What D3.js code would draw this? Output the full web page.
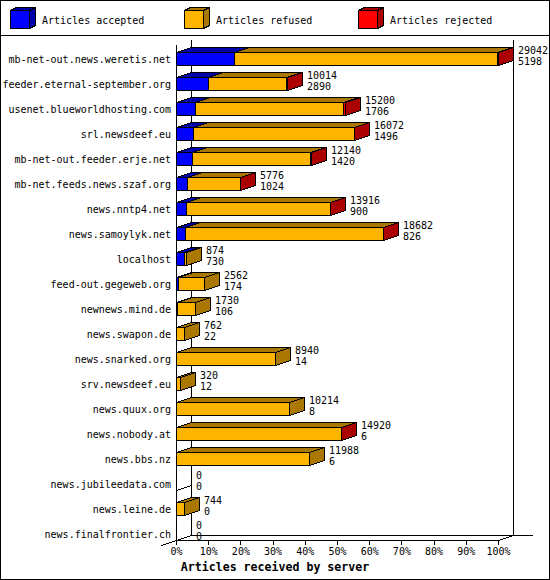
<!DOCTYPE html>
<html><head><meta charset="utf-8">
<script src="https://cdn.jsdelivr.net/npm/d3@7"></script>
<style>
html,body{margin:0;padding:0;background:#fff}
svg{display:block}
text{font-family:"DejaVu Sans Mono",monospace;font-size:10px;fill:#000}
</style>
</head><body>
<svg id="c" width="550" height="580"></svg>
<script>
const servers = ["mb-net-out.news.weretis.net","feeder.eternal-september.org","usenet.blueworldhosting.com","srl.newsdeef.eu","mb-net-out.feeder.erje.net","mb-net.feeds.news.szaf.org","news.nntp4.net","news.samoylyk.net","localhost","feed-out.gegeweb.org","newnews.mind.de","news.swapon.de","news.snarked.org","srv.newsdeef.eu","news.quux.org","news.nobody.at","news.bbs.nz","news.jubileedata.com","news.leine.de","news.finalfrontier.ch"];
const offered  = [29042,10014,15200,16072,12140,5776,13916,18682,874,2562,1730,762,8940,320,10214,14920,11988,0,744,0];
const accepted = [5198,2890,1706,1496,1420,1024,900,826,730,174,106,22,14,12,8,6,6,0,0,0];
const refused  = [23724,7064,13314,14516,10680,4722,12976,17806,144,2388,1624,740,8926,308,10206,14854,11982,0,744,0];
const rejected = [120,60,180,60,40,30,40,50,0,0,0,0,0,0,0,60,0,0,0,0];
const seriesNames = ["Articles accepted","Articles refused","Articles rejected"];
const seriesColors = ["#0000ff","#ffb400","#ff0000"];
const seriesShades = ["#0000aa","#aa7800","#aa0000"];
const tickValues = [0,10,20,30,40,50,60,70,80,90,100];
const tickLabels = ["0%","10%","20%","30%","40%","50%","60%","70%","80%","90%","100%"];
const axisTitle = "Articles received by server";

const svg = d3.select("#c").attr("shape-rendering","crispEdges");
const P = v => Math.round(v) + 0.5;
const DX = 15, DY = 5;

// frame
svg.append("rect").attr("x",0.5).attr("y",0.5).attr("width",549).attr("height",579)
  .attr("fill","#fff").attr("stroke","#000");
svg.append("line").attr("x1",0).attr("x2",550).attr("y1",35.5).attr("y2",35.5).attr("stroke","#000");

// legend
seriesNames.forEach((name,k)=>{
  const cx = 10 + Math.round(173.8*k);
  const g = svg.append("g").attr("stroke","#000").attr("stroke-width",1);
  const l = cx+0.5, r = cx+19.5, t = 10.5, b = 28.5;
  g.append("polygon").attr("points",[[l,t],[r,t],[r+6,t-3],[l+6,t-3]].join(" ")).attr("fill",seriesShades[k]);
  g.append("polygon").attr("points",[[r,t],[r+6,t-3],[r+6,b-3],[r,b]].join(" ")).attr("fill",seriesShades[k]);
  g.append("rect").attr("x",l).attr("y",t).attr("width",19).attr("height",18).attr("fill",seriesColors[k]);
  svg.append("text").attr("x",cx+32).attr("y",24).text(name);
});

// scales
const xv = d3.scaleLinear().domain([0, d3.max(offered)]).range([176, 498]);
const xp = d3.scaleLinear().domain([0, 100]).range([176, 498]);
const y = d3.scaleBand().domain(servers).range([40, 540]);
const x0 = P(xp(0)), xEnd = P(xp(100));
const yBot = 540.5;

const grid = svg.append("g").attr("stroke","#000").attr("fill","none");
// back plane lines
grid.append("line").attr("x1",x0+DX).attr("x2",x0+DX).attr("y1",39.5).attr("y2",yBot-DY);
grid.append("line").attr("x1",xEnd+DX).attr("x2",xEnd+DX).attr("y1",39.5).attr("y2",yBot-DY);
grid.append("line").attr("x1",x0+DX).attr("x2",532.5).attr("y1",yBot-DY).attr("y2",yBot-DY);
// front axis
grid.append("line").attr("x1",x0).attr("x2",x0).attr("y1",44.5).attr("y2",yBot);
// diagonals
grid.append("line").attr("x1",x0-DX).attr("y1",yBot+DY).attr("x2",x0+DX).attr("y2",yBot-DY);
grid.append("line").attr("x1",xEnd).attr("y1",yBot).attr("x2",xEnd+DX).attr("y2",yBot-DY);
// category slant ticks
servers.forEach(s=>{
  const b = y(s) + y.bandwidth() + 0.5;
  grid.append("line").attr("x1",x0).attr("y1",b).attr("x2",x0+DX).attr("y2",b-DY);
});

// bottom axis
const ax = svg.append("g").attr("transform","translate(0,540)")
  .call(d3.axisBottom(xp).tickValues(tickValues).tickFormat((d,i)=>tickLabels[i]).tickSize(5).tickSizeOuter(0));
ax.select(".domain").attr("stroke","#000");
ax.selectAll(".tick line").attr("stroke","#000");
ax.selectAll(".tick text").attr("fill","#000");

// bars
const series = [accepted, refused, rejected];
servers.forEach((s,i)=>{
  const b = y(s) + y.bandwidth() + 0.5;
  const t = b - 13;
  let cum = 0;
  const g = svg.append("g").attr("stroke","#000").attr("stroke-width",1);
  series.forEach((arr,k)=>{
    const v = arr[i];
    if (v <= 0) return;
    const xs = P(xv(cum)), xe = P(xv(cum+v));
    cum += v;
    g.append("polygon").attr("points",[[xs,t],[xe,t],[xe+DX,t-DY],[xs+DX,t-DY]].join(" ")).attr("fill",seriesShades[k]);
    g.append("polygon").attr("points",[[xe,t],[xe+DX,t-DY],[xe+DX,b-DY],[xe,b]].join(" ")).attr("fill",seriesShades[k]);
    g.append("rect").attr("x",xs).attr("y",t).attr("width",Math.max(0,xe-xs)).attr("height",13).attr("fill",seriesColors[k]);
  });
  const c = (t + b)/2;
  svg.append("text").attr("x",171).attr("y",Math.round(c+4)).attr("text-anchor","end").text(s);
  const lx = Math.round(xv(offered[i])) + DX + 5;
  svg.append("text").attr("x",lx).attr("y",Math.round(c-5)).text(offered[i]);
  svg.append("text").attr("x",lx).attr("y",Math.round(c+6)).text(accepted[i]);
});

// axis title
svg.append("text").attr("x",275).attr("y",571).attr("text-anchor","middle")
  .style("font-size","11.6px").style("font-weight","bold").text(axisTitle);
</script>
</body></html>
